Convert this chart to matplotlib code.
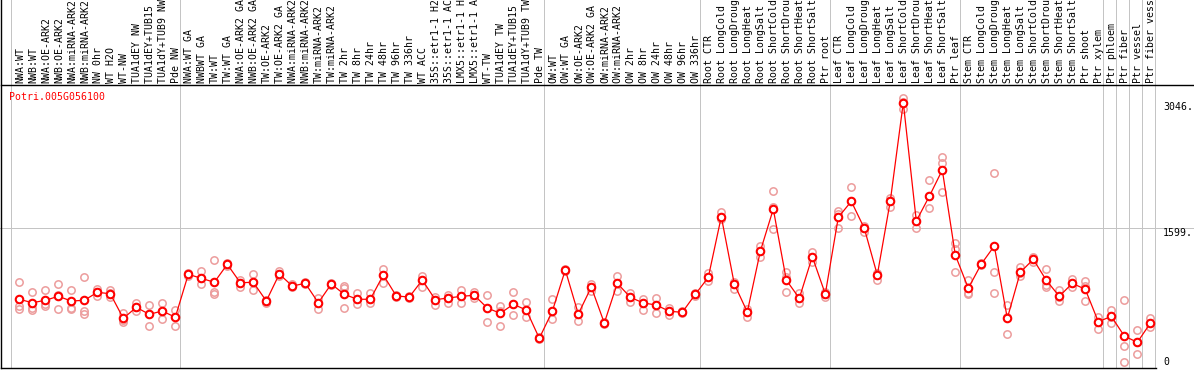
import matplotlib
matplotlib.use("Agg")
import matplotlib.pyplot as plt
import matplotlib.transforms as mtransforms
import numpy as np

# ---------------- data ----------------
gene_id = "Potri.005G056100"

categories = [
    "NWA:WT", "NWB:WT", "NWA:OE-ARK2", "NWB:OE-ARK2", "NWA:miRNA-ARK2", "NWB:miRNA-ARK2",
    "NW 0hr", "WT H2O", "WT-NW", "TUA1dEY NW", "TUA1dEY+TUB15 NW", "TUA1dY+TUB9 NW", "Pde NW",
    "NWA:WT GA", "NWBWT GA", "TW:WT", "TW:WT GA", "NWA:OE-ARK2 GA", "NWB:OE-ARK2 GA",
    "TW:OE-ARK2", "TW:OE-ARK2 GA", "NWA:miRNA-ARK2 GA", "NWB:miRNA-ARK2 GA", "TW:miRNA-ARK2",
    "TW:miRNA-ARK2 GA", "TW 2hr", "TW 8hr", "TW 24hr", "TW 48hr", "TW 96hr", "TW 336hr", "WT ACC",
    "35S::etr1-1 H2O", "35S::etr1-1 ACC", "LMX5::etr1-1 H2O", "LMX5::etr1-1 ACC", "WT-TW",
    "TUA1dEY TW", "TUA1dEY+TUB15 TW", "TUA1dY+TUB9 TW", "Pde TW",
    "OW:WT", "OW:WT GA", "OW:OE-ARK2", "OW:OE-ARK2 GA", "OW:miRNA-ARK2", "OW:miRNA-ARK2 GA",
    "OW 2hr", "OW 8hr", "OW 24hr", "OW 48hr", "OW 96hr", "OW 336hr",
    "Root CTR", "Root LongCold", "Root LongDrought", "Root LongHeat", "Root LongSalt",
    "Root ShortCold", "Root ShortDrought", "Root ShortHeat", "Root ShortSalt", "Ptr root",
    "Leaf CTR", "Leaf LongCold", "Leaf LongDrought", "Leaf LongHeat", "Leaf LongSalt",
    "Leaf ShortCold", "Leaf ShortDrought", "Leaf ShortHeat", "Leaf ShortSalt", "Ptr leaf",
    "Stem CTR", "Stem LongCold", "Stem LongDrought", "Stem LongHeat", "Stem LongSalt",
    "Stem ShortCold", "Stem ShortDrought", "Stem ShortHeat", "Stem ShortSalt", "Ptr shoot",
    "Ptr xylem", "Ptr phloem", "Ptr fiber", "Ptr vessel", "Ptr fiber vessel",
]

# group boundaries (category index where a new group starts)
group_breaks = [0, 13, 41, 53, 63, 73, 84, 85, 86, 87, 88]

means = [
    777, 737, 765, 811, 757, 765, 857, 841, 557, 684, 603, 642, 569,
    1065, 1019, 973, 1180, 968, 973, 757, 1068, 930, 961, 737, 953, 834, 777, 777,
    1057, 815, 803, 999, 772, 792, 811, 823, 676, 615, 719, 653, 327,
    638, 1115, 607, 918, 503, 961, 800, 734, 711, 638, 627, 834,
    1030, 1730, 953, 630, 1330, 1818, 999, 788, 1268, 838,
    1723, 1907, 1596, 1057, 1911, 3046, 1680, 1965, 2269, 1288,
    904, 1184, 1392, 557, 1088, 1238, 996, 811, 961, 892, 518,
    580, 353, 280, 500,
]

rep1 = [
    972, 857, 880, 949, 880, 1030, 899, 880, 615, 734, 711, 730, 649,
    1076, 1099, 1226, 1192, 999, 1068, 768, 1107, 953, 972, 788, 968, 934, 845, 845,
    1122, 822, 811, 1049, 807, 830, 880, 861, 822, 699, 865, 749, 345,
    784, 1130, 684, 949, 518, 1042, 853, 776, 795, 676, 638, 845,
    1084, 1788, 980, 661, 1392, 2022, 1095, 845, 1319, 865,
    1795, 2069, 1622, 1084, 1949, 3096, 1749, 2153, 2415, 1422,
    999, 1199, 2230, 711, 1145, 1268, 1122, 884, 1011, 988, 569,
    653, 768, 422, 557,
]
rep2 = [
    699, 676, 722, 822, 680, 642, 857, 845, 538, 684, 603, 642, 569,
    1065, 1018, 857, 1180, 968, 972, 757, 1068, 930, 961, 738, 953, 907, 776, 776,
    1057, 815, 803, 999, 772, 792, 811, 822, 676, 645, 719, 653, 326,
    638, 1115, 607, 918, 503, 961, 799, 734, 711, 638, 626, 834,
    1030, 1730, 953, 630, 1330, 1838, 1038, 788, 1268, 838,
    1761, 1907, 1595, 1057, 1911, 3049, 1680, 1965, 2346, 1353,
    853, 1184, 1088, 576, 1076, 1238, 942, 807, 961, 930, 518,
    576, 238, 280, 499,
]
rep3 = [
    661, 653, 699, 661, 668, 607, 818, 807, 511, 642, 472, 545, 472,
    1049, 949, 834, 1161, 922, 880, 730, 1049, 915, 949, 665, 942, 672, 722, 730,
    961, 807, 795, 922, 711, 730, 738, 788, 511, 468, 595, 576, 315,
    549, 1099, 530, 876, 492, 876, 749, 653, 615, 599, 615, 815,
    992, 1699, 892, 569, 1268, 1584, 861, 730, 1211, 799,
    1595, 1738, 1557, 999, 1838, 2972, 1595, 1826, 2019, 1088,
    838, 1172, 853, 372, 1045, 1211, 915, 757, 922, 757, 430,
    499, 49, 142, 461,
]

tick_values = [3046, 1599, 0]
tick_labels = ["3046.", "1599.", "0"]

# ---------------- layout (pixels) ----------------
W, H = 1194, 370
DPI = 100
ax_left_px, ax_right_px = 1.0, 1155.5
ax_top_px, ax_bottom_px = 85.0, 368.0
x0_px, dx_px = 19.3, 13.0          # pixel x of category 0, spacing
y0_px, py_per_unit = 366.6, 0.08666  # pixel y of value 0, px per unit

fig = plt.figure(figsize=(W / DPI, H / DPI), dpi=DPI)
fig.patch.set_facecolor("white")
ax_h_px = ax_bottom_px - ax_top_px
ax = fig.add_axes([ax_left_px / W, (H - ax_bottom_px) / H,
                   (ax_right_px - ax_left_px) / W, ax_h_px / H])
ax.set_xlim((ax_left_px - x0_px) / dx_px, (ax_right_px - x0_px) / dx_px)
ax.set_ylim((y0_px - ax_bottom_px) / py_per_unit, (y0_px - ax_top_px) / py_per_unit)
ax.set_axis_off()

px_lw = 72.0 / DPI  # 1 pixel in points
mono = "DejaVu Sans Mono"
fs = 7.1

x = np.arange(len(categories))
grid_col = "#c4c4c4"
ymax_fig = ax_bottom_px / ax_h_px
xmax_fig = (W - ax_left_px) / (ax_right_px - ax_left_px)

# vertical group separators (through header too)
for k in group_breaks:
    ax.axvline(k - 0.64, ymin=0, ymax=ymax_fig, color=grid_col, lw=px_lw,
               clip_on=False, zorder=1)
# horizontal grid line at mid tick
ax.axhline(tick_values[1], xmin=-ax_left_px / (ax_right_px - ax_left_px), xmax=xmax_fig,
           color=grid_col, lw=px_lw, clip_on=False, zorder=1)

# black frame lines
ax.axvline(ax.get_xlim()[0] + 0.03, ymin=0, ymax=ymax_fig, color="black", lw=1.4 * px_lw,
           clip_on=False, zorder=6)
ax.axhline(ax.get_ylim()[0], xmin=0, xmax=1, color="black", lw=1.4 * px_lw,
           clip_on=False, zorder=6)
ax.axhline(ax.get_ylim()[1], xmin=0, xmax=xmax_fig, color="black", lw=1.4 * px_lw,
           clip_on=False, zorder=6)

# replicates
rep_col = "#ec9c9c"
for reps in (rep1, rep2, rep3):
    ax.plot(x, reps, linestyle="none", marker="o", ms=5.3, mew=1.1,
            mec=rep_col, mfc="none", zorder=2, clip_on=False)

# mean line + markers
ax.plot(x, means, color="red", lw=0.9, zorder=3, clip_on=False)
ax.plot(x, means, linestyle="none", marker="o", ms=5.4, mew=1.5,
        mec="red", mfc="white", zorder=4, clip_on=False)

# header category labels
trans_lab = mtransforms.blended_transform_factory(ax.transData, ax.transAxes)
for i, lab in enumerate(categories):
    ax.text(i + 0.05, 1 + 2.0 / ax_h_px, lab, rotation=90, ha="center", va="bottom",
            transform=trans_lab, fontfamily=mono, fontsize=fs, color="black",
            clip_on=False)

# y tick labels on the right
trans_y = mtransforms.blended_transform_factory(ax.transAxes, ax.transData)
label_x = (1163 - ax_left_px) / (ax_right_px - ax_left_px)
offsets = [-4.7, -4.7, 4.6]
for v, t, off in zip(tick_values, tick_labels, offsets):
    tr = trans_y + mtransforms.ScaledTranslation(0, off / DPI, fig.dpi_scale_trans)
    ax.text(label_x, v, t, transform=tr, ha="left", va="center",
            fontfamily=mono, fontsize=fs, color="black", clip_on=False)

# gene id
fig.text(9.3 / W, 1 - 96.7 / H, gene_id, ha="left", va="center",
         fontfamily=mono, fontsize=fs, color="red")

fig.savefig("out.png", dpi=DPI)
